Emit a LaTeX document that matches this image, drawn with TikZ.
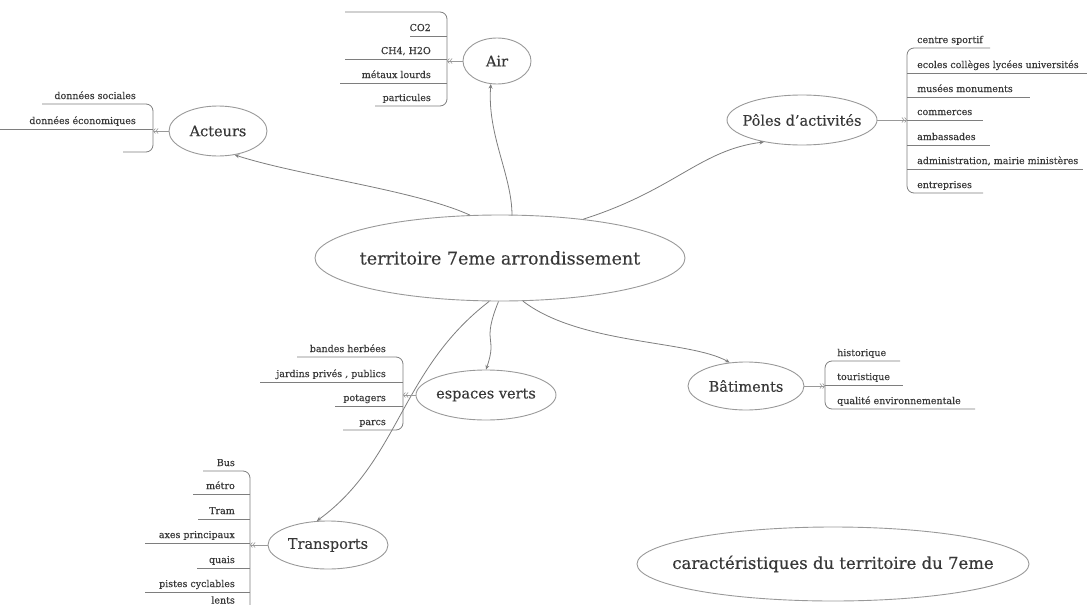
\documentclass[tikz,border=0pt]{standalone}
\usepackage{fontspec}
\setmainfont{DejaVu Serif}
\usetikzlibrary{shapes.geometric,arrows.meta}
\definecolor{txt}{HTML}{383838}
\definecolor{ln}{HTML}{7E7E7E}
\definecolor{el}{HTML}{999999}
\begin{document}
\begin{tikzpicture}[x=1pt,y=-1pt,
  topic/.style={ellipse, draw=el, line width=0.9pt, inner sep=0pt},
  lbl/.style={inner sep=0pt, text=txt, font=\fontsize{14.5}{16}\selectfont\addfontfeature{FakeBold=0.3}},
  biglbl/.style={inner sep=0pt, text=txt, font=\fontsize{17.5}{19}\selectfont\addfontfeature{FakeBold=0.3}},
  itemL/.style={anchor=base east, inner sep=0pt, text=txt, font=\fontsize{9.5}{11}\selectfont\addfontfeature{FakeBold=0.2}},
  itemR/.style={anchor=base west, inner sep=0pt, text=txt, font=\fontsize{9.5}{11}\selectfont\addfontfeature{FakeBold=0.2}},
  rule/.style={draw=ln, line width=0.8pt},
  brk/.style={draw=ln, line width=0.8pt, rounded corners=7pt},
  stub/.style={draw=el, line width=0.6pt, {Straight Barb[length=2pt,width=5pt] Straight Barb[length=2pt,width=5pt]}-},
  link/.style={draw=ln, line width=0.8pt, -{Stealth[length=4.5pt,width=4pt]}},
]
\useasboundingbox (0,0) rectangle (1087,605);

% topic nodes
\node[topic, minimum width=370pt, minimum height=86pt, label={[biglbl]center:territoire 7eme arrondissement}] (cent) at (500,258) {};
\node[topic, minimum width=98pt, minimum height=50pt, label={[lbl]center:Acteurs}] (act) at (218,131) {};
\node[topic, minimum width=68pt, minimum height=46pt, label={[lbl]center:Air}] (air) at (497,61) {};
\node[topic, minimum width=150pt, minimum height=50pt, label={[lbl]center:Pôles d'activités}] (pol) at (802,120) {};
\node[topic, minimum width=140pt, minimum height=50pt, label={[lbl]center:espaces verts}] (esp) at (486,395) {};
\node[topic, minimum width=116pt, minimum height=48pt, label={[lbl]center:Bâtiments}] (bat) at (746,386) {};
\node[topic, minimum width=120pt, minimum height=48pt, label={[lbl]center:Transports}] (tra) at (328,545) {};
\node[topic, minimum width=392pt, minimum height=74pt, label={[biglbl, font=\fontsize{16.5}{18}\selectfont\addfontfeature{FakeBold=0.6}]center:caractéristiques du territoire du 7eme}] (car) at (833,564) {};

% links from centre
\draw[link] (cent.125) .. controls (415,190) and (300,176) .. (act.-55);
\draw[link] (512,215.5) .. controls (512,175) and (487,135) .. (air.-105);
\draw[link] (cent.25) .. controls (675,190) and (700,150) .. (pol.-150);
\draw[link] (cent.-92) .. controls (481,345) and (498,335) .. (esp.north);
\draw[link] (cent.-62) .. controls (580,345) and (690,340) .. (bat.125);
\draw[link] (cent.-104) .. controls (400,370) and (400,460) .. (tra.115);

% Acteurs list
\draw[brk] (42,104) -- (153,104) -- (153,152) -- (123,152);
\draw[rule] (0,129) -- (153,129);
\node[itemL] at (136,99) {données sociales};
\node[itemL] at (136,124) {données économiques};
\coordinate (actb) at (153,131);
\draw[stub] (actb) -- (act);

% Air list
\draw[brk] (345,12) -- (447,12) -- (447,106) -- (375,106);
\draw[rule] (410,36) -- (447,36);
\draw[rule] (345,59) -- (447,59);
\draw[rule] (340,83) -- (447,83);
\node[itemL] at (431,31) {CO2};
\node[itemL] at (431,54) {CH4, H2O};
\node[itemL] at (431,78) {métaux lourds};
\node[itemL] at (431,101) {particules};
\coordinate (airb) at (447,61);
\draw[stub] (airb) -- (air);

% Poles list
\draw[brk] (990,48) -- (907,48) -- (907,193) -- (983,193);
\draw[rule] (907,73) -- (1087,73);
\draw[rule] (907,97) -- (1030,97);
\draw[rule] (907,120) -- (983,120);
\draw[rule] (907,145) -- (990,145);
\draw[rule] (907,169) -- (1083,169);
\node[itemR] at (917,43) {centre sportif};
\node[itemR] at (917,68) {ecoles collèges lycées universités};
\node[itemR] at (917,92) {musées monuments};
\node[itemR] at (917,115) {commerces};
\node[itemR] at (917,140) {ambassades};
\node[itemR] at (917,164) {administration, mairie ministères};
\node[itemR] at (917,188) {entreprises};
\coordinate (polb) at (907,120);
\draw[stub] (polb) -- (pol);

% Batiments list
\draw[brk] (900,361) -- (825,361) -- (825,409) -- (975,409);
\draw[rule] (825,385) -- (903,385);
\node[itemR] at (837,356) {historique};
\node[itemR] at (837,380) {touristique};
\node[itemR] at (837,404) {qualité environnementale};
\coordinate (batb) at (825,386);
\draw[stub] (batb) -- (bat);

% espaces verts list
\draw[brk] (297,357) -- (403,357) -- (403,430) -- (343,430);
\draw[rule] (260,382) -- (403,382);
\draw[rule] (335,406) -- (403,406);
\node[itemL] at (386,352) {bandes herbées};
\node[itemL] at (386,377) {jardins privés , publics};
\node[itemL] at (386,401) {potagers};
\node[itemL] at (386,425) {parcs};
\coordinate (espb) at (403,395);
\draw[stub] (espb) -- (esp);

% Transports list
\draw[brk] (203,471) -- (250,471) -- (250,640);
\draw[rule] (193,494) -- (250,494);
\draw[rule] (198,519) -- (250,519);
\draw[rule] (145,543) -- (250,543);
\draw[rule] (197,568) -- (250,568);
\draw[rule] (145,592) -- (250,592);
\draw[rule] (200,616) -- (250,616);
\node[itemL] at (235,466) {Bus};
\node[itemL] at (235,489) {métro};
\node[itemL] at (235,514) {Tram};
\node[itemL] at (235,538) {axes principaux};
\node[itemL] at (235,563) {quais};
\node[itemL] at (235,587) {pistes cyclables};
\node[itemL] at (235,603.5) {lents};
\coordinate (trab) at (250,545);
\draw[stub] (trab) -- (tra);
\end{tikzpicture}
\end{document}
